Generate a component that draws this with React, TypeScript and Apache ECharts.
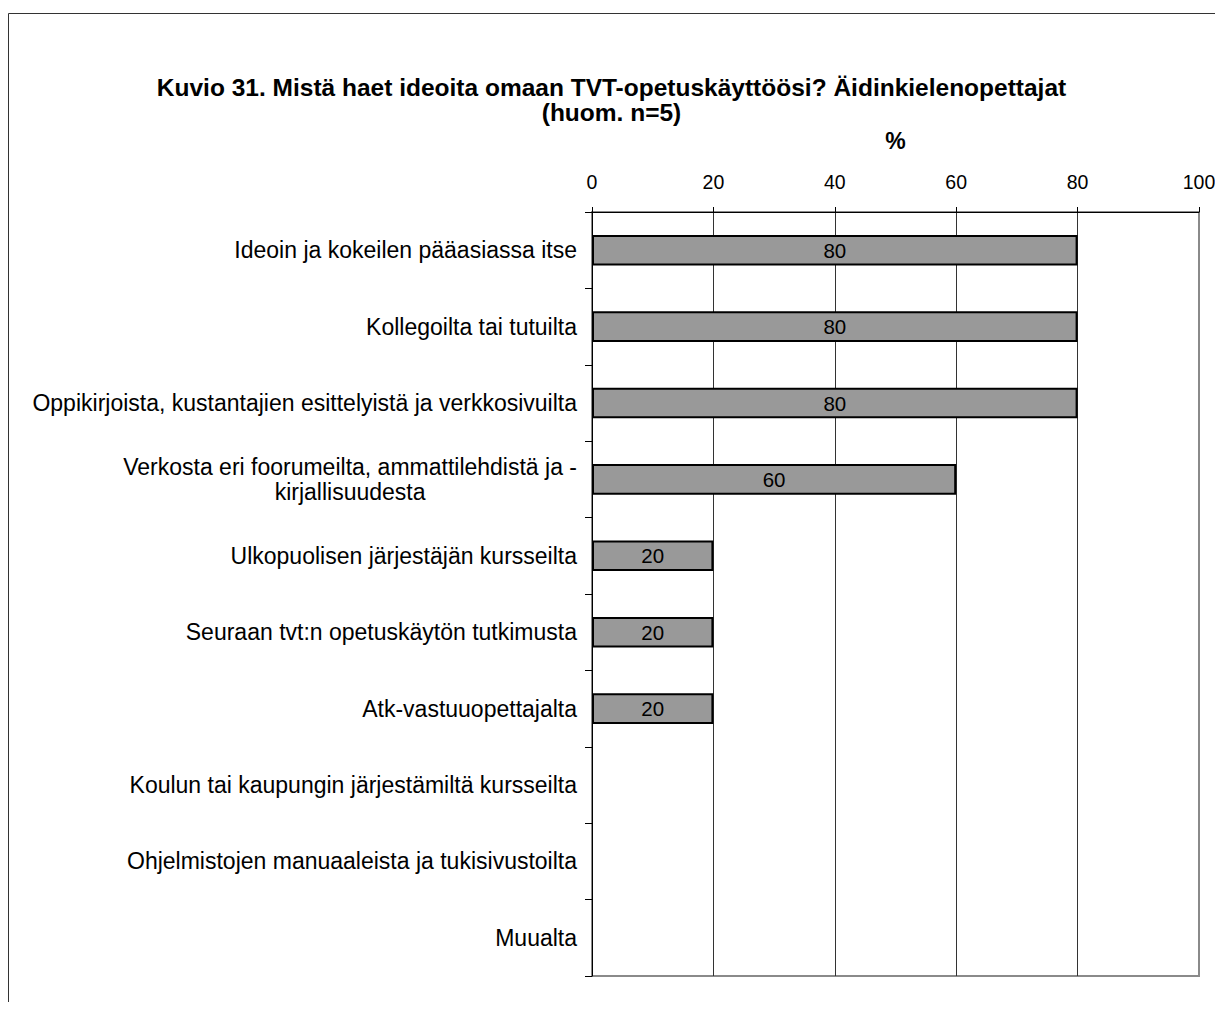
import React, { useEffect, useRef } from "react";
import * as echarts from "echarts";

const titleLines = [
  "Kuvio 31. Mistä haet ideoita omaan TVT-opetuskäyttöösi? Äidinkielenopettajat",
  "(huom. n=5)",
];
const axisName = "%";
const categories = [
  "Ideoin ja kokeilen pääasiassa itse",
  "Kollegoilta tai tutuilta",
  "Oppikirjoista, kustantajien esittelyistä ja verkkosivuilta",
  "Verkosta eri foorumeilta, ammattilehdistä ja -\nkirjallisuudesta",
  "Ulkopuolisen järjestäjän kursseilta",
  "Seuraan tvt:n opetuskäytön tutkimusta",
  "Atk-vastuuopettajalta",
  "Koulun tai kaupungin järjestämiltä kursseilta",
  "Ohjelmistojen manuaaleista ja tukisivustoilta",
  "Muualta",
];
const values = [80, 80, 80, 60, 20, 20, 20, 0, 0, 0];
const axisMin = 0;
const axisMax = 100;
const axisStep = 20;

const FONT = 'Arial, "Liberation Sans", sans-serif';

export default function App() {
  const ref = useRef<HTMLDivElement>(null);
  useEffect(() => {
    if (!ref.current) return;
    const chart = echarts.init(ref.current, null, { renderer: "svg" });
    chart.setOption({
      animation: false,
      backgroundColor: "#ffffff",
      textStyle: { fontFamily: FONT },
      title: {
        text: titleLines.join("\n"),
        left: "center",
        top: 62,
        textStyle: {
          fontFamily: FONT,
          fontSize: 24.5,
          fontWeight: "bold",
          color: "#000",
          lineHeight: 25,
        },
      },
      graphic: [
        {
          type: "rect",
          shape: { x: 0.5, y: 5.5, width: 1400, height: 1400 },
          style: { fill: "none", stroke: "#333", lineWidth: 1 },
          silent: true,
        },
      ],
      grid: {
        left: 584,
        top: 204,
        right: 16,
        bottom: 26,
        show: true,
        borderColor: "#8a8a8a",
        borderWidth: 2,
        backgroundColor: "transparent",
        outerBoundsMode: "none",
        containLabel: false,
      },
      xAxis: {
        type: "value",
        position: "top",
        min: axisMin,
        max: axisMax,
        interval: axisStep,
        name: axisName,
        nameLocation: "middle",
        nameGap: 60,
        nameTextStyle: {
          fontFamily: FONT,
          fontSize: 23,
          fontWeight: "bold",
          color: "#000",
        },
        axisLine: { show: true, lineStyle: { color: "#000", width: 1 } },
        axisTick: { show: true, inside: false, length: 5, lineStyle: { color: "#000" } },
        axisLabel: {
          fontFamily: FONT,
          fontSize: 19.5,
          color: "#000",
          margin: 20,
        },
        splitLine: {
          show: true,
          showMinLine: false,
          showMaxLine: false,
          lineStyle: { color: "#333", width: 1 },
        },
      },
      yAxis: {
        type: "category",
        inverse: true,
        data: categories,
        axisLine: { show: true, lineStyle: { color: "#000", width: 1 } },
        axisTick: { show: true, inside: false, length: 7, lineStyle: { color: "#000" } },
        axisLabel: {
          margin: 15,
          color: "#000",
          fontFamily: FONT,
          fontSize: 23,
          formatter: (v: string) =>
            v
              .split("\n")
              .map((l) => `{c|${l}}`)
              .join("\n"),
          rich: {
            c: {
              align: "center",
              fontFamily: FONT,
              fontSize: 23,
              color: "#000",
              lineHeight: 25,
            },
          },
        },
        splitLine: { show: false },
      },
      series: [
        {
          type: "bar",
          data: values.map((v) => ({
            value: v,
            itemStyle: v === 0 ? { borderWidth: 0 } : undefined,
          })),
          barCategoryGap: "60%",
          itemStyle: {
            color: "#999999",
            borderColor: "#000",
            borderWidth: 2,
          },
          label: {
            show: true,
            position: "inside",
            color: "#000",
            fontFamily: FONT,
            fontSize: 20.5,
            formatter: (p: any) => (p.value ? String(p.value) : ""),
          },
        },
      ],
    });
    return () => chart.dispose();
  }, []);
  return <div ref={ref} style={{ width: 1207, height: 994 }} />;
}
